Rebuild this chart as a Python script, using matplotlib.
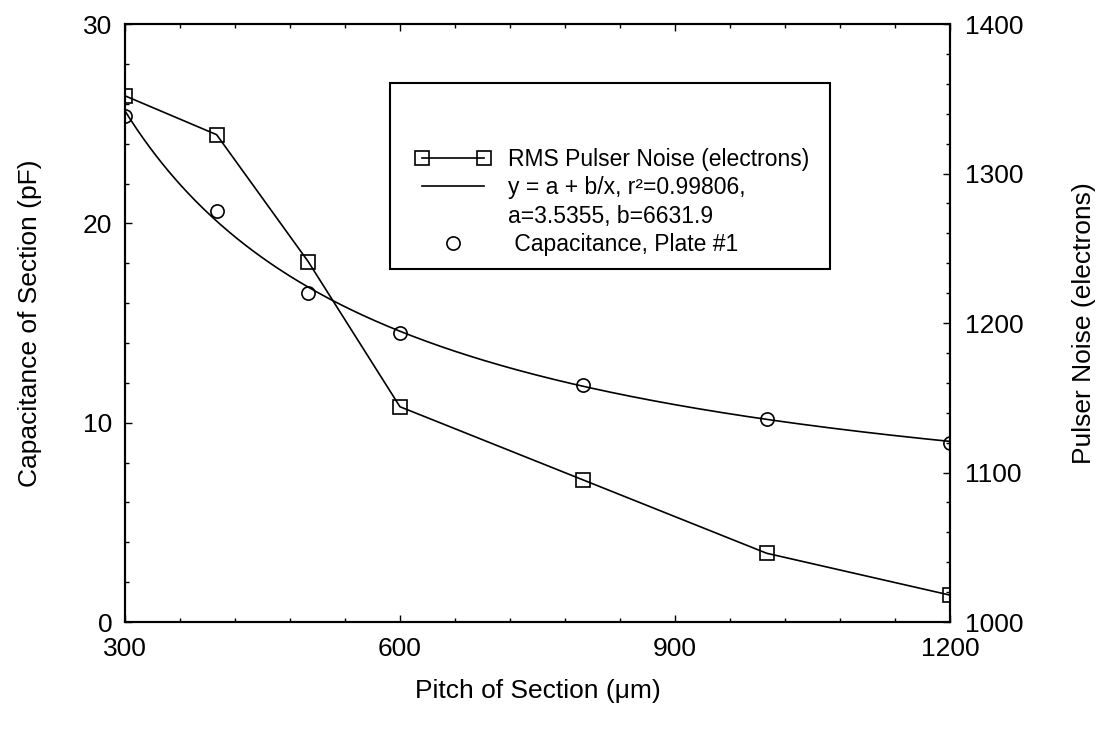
import numpy as np
import matplotlib.pyplot as plt
from matplotlib.lines import Line2D
from matplotlib.patches import Rectangle
from matplotlib.legend_handler import HandlerLine2D
from matplotlib.ticker import MultipleLocator

plt.rcParams['font.family'] = ['Liberation Sans', 'DejaVu Sans']

# pitch of each section (um)
pitch = [300, 400, 500, 600, 800, 1000, 1200]
# capacitance measured on plate #1 (pF)
capacitance = [25.4, 20.6, 16.5, 14.5, 11.9, 10.2, 9.0]
# RMS pulser noise (electrons)
noise = [1352, 1326, 1241, 1144, 1095, 1046, 1018]

# fit of capacitance: y = a + b/x
fit_a = 3.5355
fit_b = 6631.9
fit_r2 = 0.99806

fig = plt.figure(figsize=(10.98, 7.33), dpi=100)
ax = fig.add_axes([0.1138, 0.1514, 0.7514, 0.8158])
ax2 = ax.twinx()

# fitted curve and capacitance points on the left axis
xfit = np.linspace(pitch[0], pitch[-1], 400)
fit_line, = ax.plot(xfit, fit_a + fit_b / xfit, color='black', lw=1.2)
circ, = ax.plot(pitch, capacitance, 'o', ms=9.5, mfc='none', mec='black', mew=1.2)

# pulser noise on the right axis
sq, = ax2.plot(pitch, noise, 's-', color='black', lw=1.2, ms=9.5,
               mfc='none', mec='black', mew=1.2)

ax.set_xlim(300, 1200)
ax.set_ylim(0, 30)
ax2.set_ylim(1000, 1400)

ax.xaxis.set_major_locator(MultipleLocator(300))
ax.xaxis.set_minor_locator(MultipleLocator(60))
ax.yaxis.set_major_locator(MultipleLocator(10))
ax.yaxis.set_minor_locator(MultipleLocator(2))
ax2.yaxis.set_major_locator(MultipleLocator(100))
ax2.yaxis.set_minor_locator(MultipleLocator(20))

ax.tick_params(which='both', direction='in', top=True, right=False, labelsize=19, width=1)
ax.tick_params(which='major', length=5)
ax.tick_params(which='minor', length=3)
ax.tick_params(axis='x', pad=11)
ax.tick_params(axis='y', pad=9)
ax2.tick_params(which='both', direction='in', labelsize=19, width=1, pad=11)
ax2.tick_params(which='major', length=5)
ax2.tick_params(which='minor', length=3)

for a in (ax, ax2):
    for s in a.spines.values():
        s.set_linewidth(1.5)

ax.set_xlabel('Pitch of Section (μm)', fontsize=19)
ax.set_ylabel('Capacitance of Section (pF)', fontsize=19)
ax2.set_ylabel('Pulser Noise (electrons)', fontsize=19)
ax.xaxis.set_label_coords(0.5, -0.095)
ax.yaxis.set_label_coords(-0.10, 0.5)
ax2.yaxis.set_label_coords(1.148, 0.5)

# legend box
ax2.add_patch(Rectangle((0.321, 0.590), 0.534, 0.311, transform=ax2.transAxes,
                        facecolor='white', edgecolor='black', lw=1.5, zorder=4))
# second line of the fit text gets an empty handle
blank = Line2D([], [], linestyle='none', marker='none')
labels = ['RMS Pulser Noise (electrons)',
          'y = a + b/x, r²=%.5f,' % fit_r2,
          'a=%.4f, b=%.1f' % (fit_a, fit_b),
          ' Capacitance, Plate #1']
leg = ax2.legend([sq, fit_line, blank, circ], labels, loc='upper left',
                 bbox_to_anchor=(0.3515, 0.792), bbox_transform=ax2.transAxes,
                 frameon=False, fontsize=16.5, handlelength=3.3, handletextpad=0.75,
                 borderpad=0, borderaxespad=0, labelspacing=0.22, numpoints=2,
                 handler_map={circ: HandlerLine2D(numpoints=1)})
leg.set_zorder(5)

fig.savefig('out.png', dpi=100)
